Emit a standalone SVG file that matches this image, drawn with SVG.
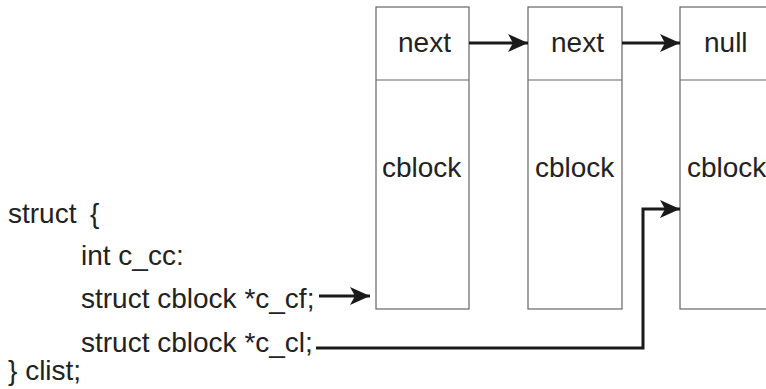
<svg xmlns="http://www.w3.org/2000/svg" width="766" height="389" viewBox="0 0 766 389">
<style>
.box{fill:#fff;stroke:#666;stroke-width:1.2}
.div{stroke:#666;stroke-width:1.2}
.t{font-family:"Liberation Sans",Arial,sans-serif;font-size:28px;fill:#222}
.c{fill:none;stroke:#1a1a1a;stroke-width:3}
</style>
<defs>
<marker id="ah" markerUnits="userSpaceOnUse" markerWidth="22" markerHeight="20" refX="20" refY="9" orient="auto">
<path d="M0,0 L20,9 L0,18 L5,9 z" fill="#1a1a1a"/>
</marker>
</defs>
<rect width="766" height="389" fill="#fff"/>
<g id="block1">
<rect class="box" x="376" y="7" width="93" height="302"/>
<line class="div" x1="376" y1="80" x2="469" y2="80"/>
<text class="t" x="398" y="52">next</text>
<text class="t" x="382" y="177">cblock</text>
</g>
<g id="block2">
<rect class="box" x="528" y="7" width="94" height="302"/>
<line class="div" x1="528" y1="80" x2="622" y2="80"/>
<text class="t" x="551" y="52">next</text>
<text class="t" x="535" y="177">cblock</text>
</g>
<g id="block3">
<rect class="box" x="680" y="7" width="120" height="302"/>
<line class="div" x1="680" y1="80" x2="800" y2="80"/>
<text class="t" x="704" y="52">null</text>
<text class="t" x="687" y="177">cblock</text>
</g>
<g id="clist">
<text class="t" x="8" y="223">struct<tspan x="90">{</tspan></text>
<text class="t" x="81" y="265">int c_cc:</text>
<text class="t" x="81" y="308">struct cblock *c_cf;</text>
<text class="t" x="81" y="352">struct cblock *c_cl;</text>
<text class="t" x="8" y="380">} clist;</text>
</g>
<g id="connectors">
<line class="c" x1="469" y1="43" x2="528" y2="43" marker-end="url(#ah)"/>
<line class="c" x1="622" y1="43" x2="680" y2="43" marker-end="url(#ah)"/>
<line class="c" x1="319" y1="296" x2="370" y2="296" marker-end="url(#ah)"/>
<polyline class="c" points="316,348 643,348 643,209 680,209" marker-end="url(#ah)"/>
</g>
</svg>
